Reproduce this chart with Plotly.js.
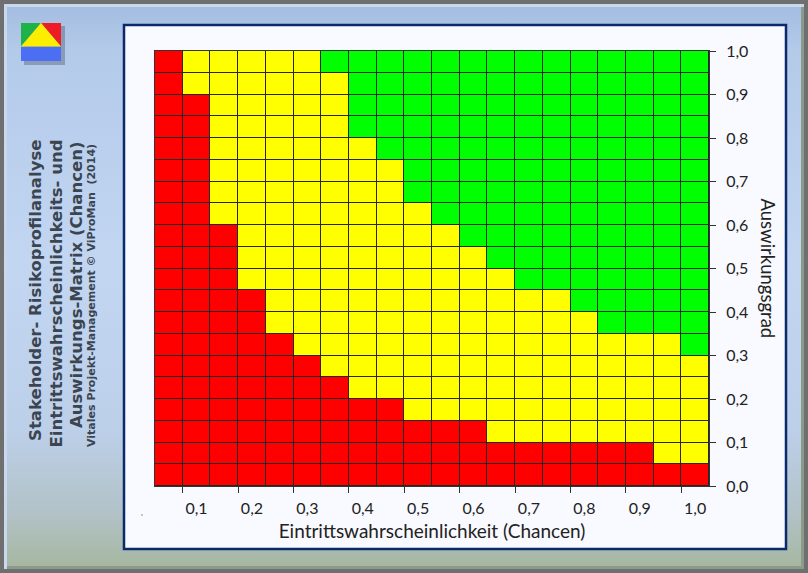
<!DOCTYPE html>
<html>
<head>
<meta charset="utf-8">
<script src="https://cdn.plot.ly/plotly-3.0.1.min.js"></script>
<style>
  html, body { margin: 0; padding: 0; }
  #frame { position: absolute; left: 0; top: 0; width: 808px; height: 573px; background: #6f6f6f; }
  #inner { position: absolute; left: 4px; top: 4px; right: 4px; bottom: 4px;
    background: linear-gradient(to bottom, #a3bce0 0%, #b3cae9 8%, #c2d6f2 45%, #bdd0ea 75%, #b2c2c8 90%, #a5b79f 100%);
    box-shadow: inset 3px 3px 0 #c9d8ec, inset -3px -3px 0 #8c9a8a; }
  #chart { position: absolute; left: 0; top: 0; width: 808px; height: 573px; }
</style>
</head>
<body>
<div id="frame"><div id="inner"></div></div>
<div id="chart"></div>
<script>
// Data
const xCategories = [0.05,0.10,0.15,0.20,0.25,0.30,0.35,0.40,0.45,0.50,0.55,0.60,0.65,0.70,0.75,0.80,0.85,0.90,0.95,1.00];
const rowCenters = [0.025,0.075,0.125,0.175,0.225,0.275,0.325,0.375,0.425,0.475,0.525,0.575,0.625,0.675,0.725,0.775,0.825,0.875,0.925,0.975];
// top of red zone for each column
const redTop = [1.00,0.90,0.60,0.45,0.35,0.30,0.25,0.20,0.20,0.15,0.15,0.15,0.10,0.10,0.10,0.10,0.10,0.10,0.05,0.05];
// top of yellow zone (start of green) for each column
const yellowTop = [1.00,1.00,1.00,1.00,1.00,1.00,0.95,0.80,0.75,0.65,0.60,0.55,0.50,0.45,0.45,0.40,0.35,0.35,0.35,0.30];
const xTickVals = [0.1,0.2,0.3,0.4,0.5,0.6,0.7,0.8,0.9,1.0];
const xTickText = ["0,1","0,2","0,3","0,4","0,5","0,6","0,7","0,8","0,9","1,0"];
const yTickVals = [0.0,0.1,0.2,0.3,0.4,0.5,0.6,0.7,0.8,0.9,1.0];
const yTickText = ["0,0","0,1","0,2","0,3","0,4","0,5","0,6","0,7","0,8","0,9","1,0"];
const titleLines = ["Stakeholder- Risikoprofilanalyse", "Eintrittswahrscheinlichkeits- und", "Auswirkungs-Matrix (Chancen)"];
const creditLine = "Vitales Projekt-Management © ViProMan  (2014)";

const z = rowCenters.map(y => xCategories.map((x, k) => y < redTop[k] ? 0 : (y < yellowTop[k] ? 1 : 2)));

const trace = {
  type: 'heatmap', x: xCategories, y: rowCenters, z: z,
  zmin: 0, zmax: 2, showscale: false, xgap: 1, ygap: 1, hoverinfo: 'skip',
  colorscale: [[0,'#ff0000'],[0.333,'#ff0000'],[0.334,'#ffff00'],[0.666,'#ffff00'],[0.667,'#00ff00'],[1,'#00ff00']]
};

// pixel -> paper helpers for decoration
const L = 155, R = 709, T = 51, B = 486;
const px = v => (v - L) / (R - L);
const py = v => (B - v) / (B - T);

const shapes = [
  {type:'rect', xref:'paper', yref:'paper', x0:px(124), x1:px(786), y0:py(549), y1:py(25), fillcolor:'#f8faff', line:{color:'#0b2a6b', width:2.5}, layer:'below'},
  // dark grid background behind the cells
  {type:'rect', xref:'paper', yref:'paper', x0:0, x1:1, y0:0, y1:1, fillcolor:'#262626', line:{width:0}, layer:'below'},
  // logo shadow
  {type:'rect', xref:'paper', yref:'paper', x0:px(24), x1:px(65), y0:py(65), y1:py(26), fillcolor:'rgba(60,70,90,0.35)', line:{width:0}, layer:'below'},
  {type:'rect', xref:'paper', yref:'paper', x0:px(21), x1:px(61), y0:py(61), y1:py(46.5), fillcolor:'#4b6ef2', line:{width:0}, layer:'below'},
  {type:'path', xref:'paper', yref:'paper', path:`M ${px(21)},${py(23)} L ${px(41)},${py(23)} L ${px(21)},${py(46.5)} Z`, fillcolor:'#1fb14a', line:{width:0}, layer:'below'},
  {type:'path', xref:'paper', yref:'paper', path:`M ${px(41)},${py(23)} L ${px(61)},${py(23)} L ${px(61)},${py(46.5)} Z`, fillcolor:'#ee1c24', line:{width:0}, layer:'below'},
  {type:'path', xref:'paper', yref:'paper', path:`M ${px(41)},${py(23)} L ${px(61)},${py(46.5)} L ${px(21)},${py(46.5)} Z`, fillcolor:'#fbee00', line:{width:0}, layer:'below'},
  // tiny dot
  {type:'rect', xref:'paper', yref:'paper', x0:px(141.5), x1:px(142.5), y0:py(515.5), y1:py(514.5), fillcolor:'#333', line:{width:0}, layer:'below'}
];

const titleFont = {family:'DejaVu Sans', size:16.5, color:'#3b4550', weight:'bold'};
const annotations = [
  {xref:'paper', yref:'paper', x:px(35.5), y:py(138), xanchor:'center', yanchor:'top', textangle:-90, showarrow:false, text:'<b>'+titleLines[0]+'</b>', font:titleFont},
  {xref:'paper', yref:'paper', x:px(55.5), y:py(138), xanchor:'center', yanchor:'top', textangle:-90, showarrow:false, text:'<b>'+titleLines[1]+'</b>', font:titleFont},
  {xref:'paper', yref:'paper', x:px(76), y:py(140), xanchor:'center', yanchor:'top', textangle:-90, showarrow:false, text:'<b>'+titleLines[2]+'</b>', font:titleFont},
  {xref:'paper', yref:'paper', x:px(91.5), y:py(142), xanchor:'center', yanchor:'top', textangle:-90, showarrow:false, text:'<b>'+creditLine+'</b>', font:{family:'DejaVu Sans', size:11, color:'#3b4550'}},
  {xref:'paper', yref:'paper', x:px(768), y:0.5, xanchor:'center', yanchor:'middle', textangle:90, showarrow:false, text:'Auswirkungsgrad', font:{family:'Lato', size:18.5, color:'#222'}}
];

const layout = {
  width: 808, height: 573,
  margin: {l: L, r: 808 - R, t: T, b: 573 - B, pad: 0},
  paper_bgcolor: 'rgba(0,0,0,0)', plot_bgcolor: 'rgba(0,0,0,0)',
  showlegend: false,
  xaxis: {
    range: [0.025, 1.025], tickmode: 'array', tickvals: xTickVals, ticktext: xTickText,
    ticks: '', ticklabelstandoff: 8, showgrid: false, zeroline: false, showline: true, linecolor: '#333', linewidth: 1, mirror: true,
    minor: {tickmode: 'array', tickvals: [0.075,0.175,0.275,0.375,0.475,0.575,0.675,0.775,0.875,0.975], ticks: 'outside', ticklen: 6, tickcolor: '#333', tickwidth: 1, showgrid: false},
    tickfont: {family: 'Lato', size: 16, color: '#222'},
    title: {text: 'Eintrittswahrscheinlichkeit (Chancen)', font: {family: 'Lato', size: 19, color: '#222'}, standoff: 8},
    fixedrange: true
  },
  yaxis: {
    range: [0, 1], side: 'right', tickmode: 'array', tickvals: yTickVals, ticktext: yTickText,
    ticks: 'outside', ticklen: 6, tickcolor: '#333', ticklabelstandoff: 7, showgrid: false, zeroline: false,
    showline: true, linecolor: '#333', linewidth: 1, mirror: true,
    tickfont: {family: 'Lato', size: 16, color: '#222'}, fixedrange: true
  },
  shapes: shapes,
  annotations: annotations
};

Plotly.newPlot('chart', [trace], layout, {displayModeBar: false, staticPlot: true});
</script>
</body>
</html>
